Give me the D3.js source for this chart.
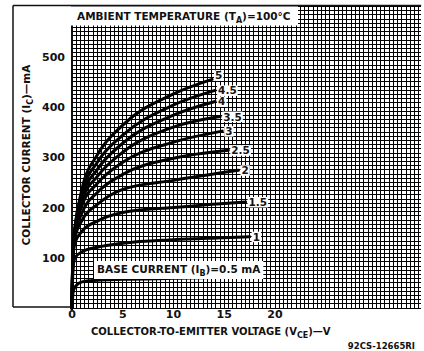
<!DOCTYPE html>
<html><head><meta charset="utf-8">
<script src="https://cdn.jsdelivr.net/npm/d3@7"></script>
<style>html,body{margin:0;padding:0;background:#fff;}svg{display:block;}</style>
</head><body>
<svg id="c" width="424" height="351"></svg>
<script>
// ---- data ----
const baseCurrents = ["0.5","1","1.5","2","2.5","3","3.5","4","4.5","5"];
const curveLabels  = ["",   "1","1.5","2","2.5","3","3.5","4","4.5","5"];
const vce = {
 "0.5":[0,0.1,0.3,1,2.5,5,10,15,18.5],
 "1":  [0,0.1,0.3,1,2.5,5,10,15,17.5],
 "1.5":[0,0.1,0.3,1,2.5,5,10,15,17.1],
 "2":  [0,0.1,0.3,1,2.5,5,10,16.4],
 "2.5":[0,0.1,0.3,1,2.5,5,10,15.4],
 "3":  [0,0.1,0.3,1,2.5,5,10,14.8],
 "3.5":[0,0.1,0.3,1,2.5,5,10,14.6],
 "4":  [0,0.1,0.3,1,2.5,5,10,14.1],
 "4.5":[0,0.1,0.3,1,2.5,5,10,14.1],
 "5":  [0,0.1,0.3,1,2.5,5,10,13.8]
};
const ic = {
 "0.5":[0,30,42,52,55,57,59,61,62],
 "1":  [0,80,100,112,121,129,136,140,142],
 "1.5":[0,100,130,153,173,190,200,208,211],
 "2":  [0,105,140,175,206,236,254,274],
 "2.5":[0,110,145,190,230,266,298,314],
 "3":  [0,112,150,205,248,290,330,352],
 "3.5":[0,115,155,215,262,310,360,381],
 "4":  [0,118,158,222,276,328,384,411],
 "4.5":[0,120,160,230,290,344,404,433],
 "5":  [0,122,162,238,305,364,426,455]
};
const xTicks = [0,5,10,15,20];
const yTicks = [100,200,300,400,500];
const xMax = 34.4, yMax = 600;

// ---- scales ----
const svg = d3.select("#c");
const x = d3.scaleLinear().domain([0,20]).range([72,275]);
const y = d3.scaleLinear().domain([0,500]).range([308,56.75]);
const FONT = "DejaVu Sans, Arial, sans-serif";

// grid
const g = svg.append("g").attr("shape-rendering","crispEdges");
const xs = d3.range(0, xMax+0.01, 5/12);
const ys = d3.range(0, yMax+0.01, 100/12);
g.selectAll("line.v").data(xs).join("line")
  .attr("x1",d=>x(d)).attr("x2",d=>x(d)).attr("y1",y(0)).attr("y2",y(yMax))
  .attr("stroke","#000").attr("stroke-width",1);
g.selectAll("line.h").data(ys).join("line")
  .attr("x1",x(0)-1).attr("x2",x(xMax)).attr("y1",d=>y(d)).attr("y2",d=>y(d))
  .attr("stroke","#000").attr("stroke-width",1);

// frame
const fr = svg.append("g").attr("stroke","#111").attr("stroke-width",1.5).attr("fill","none");
fr.append("line").attr("x1",13).attr("x2",13).attr("y1",y(yMax)-1).attr("y2",y(0)-1);
fr.append("line").attr("x1",13).attr("x2",x(xMax)).attr("y1",y(yMax)-1).attr("y2",y(yMax)-1);
fr.append("line").attr("x1",13).attr("x2",x(0)).attr("y1",y(0)-1).attr("y2",y(0)-1);
fr.append("line").attr("x1",x(0)).attr("x2",x(0)).attr("y1",y(0)).attr("y2",y(yMax)).attr("stroke-width",2);

// title box
svg.append("rect").attr("x",x(0)-1).attr("y",y(yMax)).attr("width",227).attr("height",19).attr("fill","#fff");
const tt = svg.append("text").attr("x",77).attr("y",20).attr("font-family",FONT).attr("font-weight","bold")
  .attr("font-size",10.5).attr("fill","#111");
tt.append("tspan").text("AMBIENT TEMPERATURE (T");
tt.append("tspan").attr("font-size",8).attr("dy",3).text("A");
tt.append("tspan").attr("dy",-3).text(")=100°C");

// curves
const line = d3.line().x(d=>x(d[0])).y(d=>y(d[1])).curve(d3.curveMonotoneX);
baseCurrents.forEach(k=>{
  const pts = vce[k].map((v,i)=>[v, ic[k][i]]);
  svg.append("path").attr("d",line(pts)).attr("fill","none").attr("stroke","#000")
    .attr("stroke-width",3).attr("stroke-linecap","round");
});

// curve labels
baseCurrents.forEach((k,i)=>{
  const lab = curveLabels[i]; if(!lab) return;
  const n = vce[k].length-1;
  const ex = x(vce[k][n]), ey = y(ic[k][n]);
  const dy = k==="5" ? -4 : 0;
  const t = svg.append("text").attr("x",ex+3).attr("y",ey+dy+4).attr("font-family",FONT)
    .attr("font-weight","bold").attr("font-size",10.5).attr("fill","#111").text(lab);
  const b = t.node().getBBox();
  svg.insert("rect", () => t.node()).attr("x",b.x-1).attr("y",ey+dy-5).attr("width",b.width+2).attr("height",10.5).attr("fill","#fff");
});

// base current label
{
  const t = svg.append("text").attr("x",97).attr("y",273).attr("font-family",FONT)
    .attr("font-weight","bold").attr("font-size",10.5).attr("fill","#111");
  t.append("tspan").text("BASE CURRENT (I");
  t.append("tspan").attr("font-size",8).attr("dy",3).text("B");
  t.append("tspan").attr("dy",-3).text(")=0.5 mA");
  const b = t.node().getBBox();
  svg.insert("rect", () => t.node()).attr("x",b.x-3).attr("y",b.y-2).attr("width",b.width+5).attr("height",b.height+3).attr("fill","#fff");
}

// tick labels
svg.selectAll("text.yt").data(yTicks).join("text")
  .attr("x",65).attr("y",d=>y(d)+4).attr("text-anchor","end").attr("font-family",FONT)
  .attr("font-weight","bold").attr("font-size",11).attr("fill","#111").text(d=>d);
svg.selectAll("text.xt").data(xTicks).join("text")
  .attr("x",d=>x(d)).attr("y",318).attr("text-anchor","middle").attr("font-family",FONT)
  .attr("font-weight","bold").attr("font-size",11).attr("fill","#111").text(d=>d);

// axis titles
{
  const t = svg.append("text").attr("x",91).attr("y",335).attr("font-family",FONT)
    .attr("font-weight","bold").attr("font-size",10).attr("fill","#111");
  t.append("tspan").text("COLLECTOR-TO-EMITTER VOLTAGE (V");
  t.append("tspan").attr("font-size",8).attr("dy",3).text("CE");
  t.append("tspan").attr("dy",-3).text(")—V");
}
{
  const t = svg.append("text").attr("transform","translate(30,155) rotate(-90)").attr("text-anchor","middle")
    .attr("font-family",FONT).attr("font-weight","bold").attr("font-size",10.5).attr("fill","#111");
  t.append("tspan").text("COLLECTOR CURRENT (I");
  t.append("tspan").attr("font-size",8).attr("dy",3).text("C");
  t.append("tspan").attr("dy",-3).text(")—mA");
}
svg.append("text").attr("x",415).attr("y",349).attr("text-anchor","end").attr("font-family",FONT)
  .attr("font-weight","bold").attr("font-size",8.5).attr("fill","#111").text("92CS-12665RI");
</script>
</body></html>
